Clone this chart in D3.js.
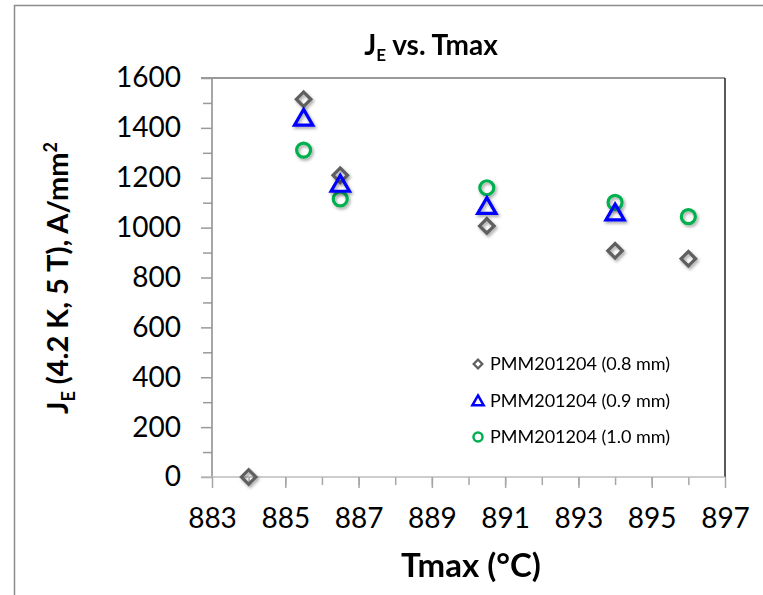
<!DOCTYPE html>
<html>
<head>
<meta charset="utf-8">
<script src="https://cdn.jsdelivr.net/npm/d3@7"></script>
<style>
  html, body { margin: 0; padding: 0; background: #fff; }
  svg { display: block; }
  text { font-family: Lato, "Open Sans", sans-serif; fill: #000; }
</style>
</head>
<body>
<svg id="chart" width="763" height="595"></svg>
<script>
// ---- data ----
const seriesNames = ["PMM201204 (0.8 mm)", "PMM201204 (0.9 mm)", "PMM201204 (1.0 mm)"];
const tmax08 = [884, 885.5, 886.5, 890.5, 894, 896];
const je08   = [0, 1515, 1210, 1007, 907, 875];
const tmax09 = [885.5, 886.5, 890.5, 894];
const je09   = [1440, 1175, 1086, 1060];
const tmax10 = [885.5, 886.5, 890.5, 894, 896];
const je10   = [1311, 1115, 1160, 1101, 1044];
const xTickLabels = [883, 885, 887, 889, 891, 893, 895, 897];
const yTickLabels = [0, 200, 400, 600, 800, 1000, 1200, 1400, 1600];

const svg = d3.select("#chart");
const M = { left: 212, right: 725, top: 78, bottom: 477 };

const x = d3.scaleLinear().domain([883, 897]).range([M.left, M.right]);
const y = d3.scaleLinear().domain([0, 1600]).range([M.bottom, M.top]);

// drop shadow filter
const defs = svg.append("defs");
const f = defs.append("filter").attr("id", "shadow").attr("x", "-50%").attr("y", "-50%").attr("width", "200%").attr("height", "200%");
f.append("feDropShadow").attr("dx", 1.5).attr("dy", 2).attr("stdDeviation", 1.6).attr("flood-color", "#000").attr("flood-opacity", 0.35);

// outer chart border
svg.append("path").attr("d", "M14.5,595 L14.5,5.5 L763,5.5")
  .attr("fill", "none").attr("stroke", "#8c8c8c").attr("stroke-width", 1.5);

// plot frame: top (gray) and right (dark)
svg.append("line").attr("x1", M.left - 11).attr("x2", M.right).attr("y1", M.top).attr("y2", M.top)
  .attr("stroke", "#9a9a9a").attr("stroke-width", 2);
svg.append("line").attr("x1", M.right).attr("x2", M.right).attr("y1", M.top).attr("y2", M.bottom)
  .attr("stroke", "#222").attr("stroke-width", 1.5);

// y axis (major + minor ticks)
const yMinor = d3.axisLeft(y).tickValues(d3.range(100, 1600, 200)).tickSize(9).tickFormat("");
svg.append("g").attr("transform", `translate(${M.left},0)`).call(yMinor)
  .call(g => g.select(".domain").remove())
  .call(g => g.selectAll(".tick line").attr("stroke", "#9a9a9a").attr("stroke-width", 1.5));
const yAxis = d3.axisLeft(y).tickValues(yTickLabels).tickSize(11).tickPadding(20).tickFormat(d3.format("d"));
svg.append("g").attr("transform", `translate(${M.left},0)`).call(yAxis)
  .call(g => g.select(".domain").attr("d", `M0,${M.top}V${M.bottom}`).attr("stroke", "#8a8a8a").attr("stroke-width", 1.5))
  .call(g => g.selectAll(".tick line").attr("stroke", "#9a9a9a").attr("stroke-width", 1.5))
  .call(g => g.selectAll(".tick text").attr("font-size", 28).attr("font-family", "Lato, sans-serif").attr("fill", "#000"));

// x axis (major + minor ticks)
const xMinor = d3.axisBottom(x).tickValues(d3.range(884, 897, 1)).tickSize(8).tickFormat("");
svg.append("g").attr("transform", `translate(0,${M.bottom})`).call(xMinor)
  .call(g => g.select(".domain").remove())
  .call(g => g.selectAll(".tick line").attr("stroke", "#a6a6a6").attr("stroke-width", 1.5));
const xAxis = d3.axisBottom(x).tickValues(xTickLabels).tickSize(11).tickPadding(20).tickFormat(d3.format("d"));
svg.append("g").attr("transform", `translate(0,${M.bottom})`).call(xAxis)
  .call(g => g.select(".domain").attr("d", `M${M.left - 11},0H${M.right}`).attr("stroke", "#bdbdbd").attr("stroke-width", 1.5))
  .call(g => g.selectAll(".tick line").attr("stroke", "#a6a6a6").attr("stroke-width", 1.5))
  .call(g => g.selectAll(".tick text").attr("font-size", 28).attr("font-family", "Lato, sans-serif").attr("fill", "#000"));

// markers
const styles = [
  { color: "#5f5f5f", path: s => d3.symbol().type(d3.symbolSquare).size(s)(), rot: 45, size: 105 },
  { color: "#0000ff", path: s => d3.symbol().type(d3.symbolTriangle).size(s)(), rot: 0, size: 145 },
  { color: "#00b050", path: null, rot: 0, size: 7 }
];
const seriesData = [
  d3.zip(tmax08, je08),
  d3.zip(tmax09, je09),
  d3.zip(tmax10, je10)
];

const order = [0, 2, 1];
order.forEach(i => {
  const st = styles[i];
  const g = svg.append("g").attr("filter", "url(#shadow)");
  seriesData[i].forEach(([tx, je]) => {
    if (st.path) {
      const dy = i === 1 ? 2 : 0;
      g.append("path").attr("d", st.path(st.size))
        .attr("transform", `translate(${x(tx)},${y(je) + dy}) rotate(${st.rot})`)
        .attr("fill", "none").attr("stroke", st.color).attr("stroke-width", 3.2);
    } else {
      g.append("circle").attr("cx", x(tx)).attr("cy", y(je)).attr("r", st.size)
        .attr("fill", "none").attr("stroke", st.color).attr("stroke-width", 3.2);
    }
  });
});

// legend
const legY = [364, 401, 437];
const legX = 478;
seriesNames.forEach((name, i) => {
  const st = styles[i];
  const yy = legY[i];
  if (i === 0) {
    svg.append("path").attr("d", d3.symbol().type(d3.symbolSquare).size(38)())
      .attr("transform", `translate(${legX},${yy}) rotate(45)`)
      .attr("fill", "none").attr("stroke", st.color).attr("stroke-width", 2.2);
  } else if (i === 1) {
    svg.append("path").attr("d", d3.symbol().type(d3.symbolTriangle).size(55)())
      .attr("transform", `translate(${legX},${yy + 1})`)
      .attr("fill", "none").attr("stroke", st.color).attr("stroke-width", 2.5);
  } else {
    svg.append("circle").attr("cx", legX).attr("cy", yy).attr("r", 4.5)
      .attr("fill", "none").attr("stroke", st.color).attr("stroke-width", 2.5);
  }
  svg.append("text").attr("x", 490).attr("y", yy).attr("dy", "0.36em")
    .attr("font-size", 18).text(name);
});

// title
const title = svg.append("text").attr("x", 431).attr("y", 55).attr("text-anchor", "middle")
  .attr("font-size", 28).attr("font-weight", "bold");
title.append("tspan").text("J");
title.append("tspan").attr("font-size", 17).attr("dy", 6).text("E");
title.append("tspan").attr("dy", -6).text(" vs. Tmax");

// x axis title
svg.append("text").attr("x", 471).attr("y", 577).attr("text-anchor", "middle")
  .attr("font-size", 33).attr("font-weight", "bold").text("Tmax (°C)");

// y axis title
const yt = svg.append("text").attr("transform", "translate(68,278) rotate(-90)")
  .attr("text-anchor", "middle").attr("font-size", 29).attr("font-weight", "bold");
yt.append("tspan").text("J");
yt.append("tspan").attr("font-size", 18).attr("dy", 7).text("E");
yt.append("tspan").attr("dy", -7).text(" (4.2 K, 5 T), A/mm");
yt.append("tspan").attr("font-size", 18).attr("dy", -11).text("2");
</script>
</body>
</html>
